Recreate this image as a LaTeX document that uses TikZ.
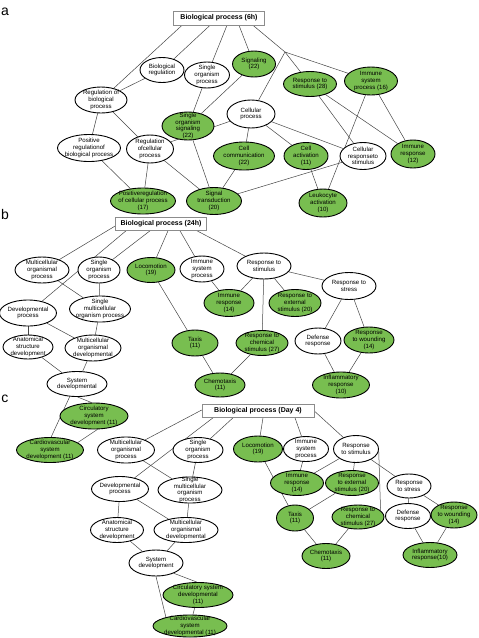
\documentclass[tikz,border=0pt]{standalone}
\usepackage{fontspec}
\setmainfont{Liberation Sans}
\usetikzlibrary{shapes.geometric,backgrounds}
\definecolor{gogreen}{RGB}{120,190,80}
\definecolor{edgegray}{RGB}{70,70,70}
\newcommand{\goel}[6]{\node[#1, minimum width=#4pt, minimum height=#5pt, label={[golabel]center:{#6}}] (#2) at (#3) {};}
\tikzset{
  gow/.style={ellipse, draw=black, line width=0.9pt, fill=white, inner sep=0pt},
  gog/.style={gow, fill=gogreen},
  golabel/.style={font=\fontsize{6.1}{6.7}\selectfont, align=center, inner sep=0pt, text=black},
  gotitle/.style={rectangle, draw=black!45, line width=0.6pt, fill=white, inner sep=0pt, font=\fontsize{7}{8}\selectfont\bfseries},
  goedge/.style={draw=edgegray, line width=0.5pt},
  panellbl/.style={font=\fontsize{14}{16}\selectfont, inner sep=0pt}
}
\begin{document}
\begin{tikzpicture}[x=1pt,y=-1pt]
\useasboundingbox (0,0) rectangle (479,638);
% panel labels
\node[panellbl] (la) at (5,12) {a};
\node[panellbl] (lb) at (5,214) {b};
\node[panellbl] (lc) at (5,399) {c};

% ---------------- panel a ----------------
\node[gotitle, minimum width=91pt, minimum height=14pt] (ta) at (219,18) {Biological process (6h)};
\coordinate (ja) at (285,52);
\goel{gow}{a1}{162,70}{44}{25}{Biological\\regulation}
\goel{gow}{a2}{207,75}{45}{26}{Single\\organism\\process}
\goel{gog}{a3}{254,64}{43}{26}{Signaling\\(22)}
\goel{gog}{a4}{310,84}{53}{25}{Response to\\stimulus (28)}
\goel{gog}{a5}{371,81}{53}{28}{Immune\\system\\process (16)}
\goel{gow}{a6}{101,100}{52}{26}{Regulation of\\biological\\process}
\goel{gog}{a7}{188,126}{52}{28}{Single\\organism\\signaling\\(22)}
\goel{gow}{a8}{251,114}{48}{28}{Cellular\\process}
\goel{gow}{a9}{89,148}{63}{27}{Positive\\regulationof\\biological process}
\goel{gow}{a10}{150,149}{47}{28}{Regulation\\ofcellular\\process}
\goel{gog}{a11}{244,156}{61}{28}{Cell\\communication\\(22)}
\goel{gog}{a12}{306,156}{44}{27}{Cell\\activation\\(11)}
\goel{gow}{a13}{363,156}{46}{27}{Cellular\\responseto\\stimulus}
\goel{gog}{a14}{413,154}{44}{28}{Immune\\response\\(12)}
\goel{gog}{a15}{143,201}{65}{26}{Positiveregulation\\of cellular process\\(17)}
\goel{gog}{a16}{214,201}{55}{27}{Signal\\transduction\\(20)}
\goel{gog}{a17}{323,203}{48}{28}{Leukocyte\\activation\\(10)}

% ---------------- panel b ----------------
\node[gotitle, minimum width=91pt, minimum height=13pt] (tb) at (161,224) {Biological process (24h)};
\goel{gow}{b1}{42,270}{54}{26}{Multicellular\\organismal\\process}
\goel{gow}{b2}{99,270}{42}{26}{Single\\organism\\process}
\goel{gog}{b3}{151,270}{48}{25}{Locomotion\\(19)}
\goel{gow}{b4}{202,269}{44}{26}{Immune\\system\\process}
\goel{gow}{b5}{264,266}{54}{26}{Response to\\stimulus}
\goel{gow}{b6}{349,286}{54}{27}{Response to\\stress}
\goel{gow}{b7}{28,313}{57}{26}{Developmental\\process}
\goel{gow}{b8}{100,309}{61}{26}{Single\\multicellular\\organism process}
\goel{gog}{b9}{229,303}{50}{27}{Immune\\response\\(14)}
\goel{gog}{b10}{295,303}{52}{27}{Response to\\external\\stimulus (20)}
\goel{gow}{b11}{28,347}{50}{24}{Anatomical\\structure\\development}
\goel{gow}{b12}{93,348}{56}{26}{Multicellular\\organismal\\developmental}
\goel{gog}{b13}{195,343}{46}{26}{Taxis\\(11)}
\goel{gog}{b14}{262,343}{52}{25}{Response to\\chemical\\stimulus (27)}
\goel{gow}{b15}{318,341}{46}{26}{Defense\\response}
\goel{gog}{b16}{369,340}{50}{26}{Response\\to wounding\\(14)}
\goel{gow}{b17}{77,384}{60}{25}{System\\developmental}
\goel{gog}{b18}{220,385}{50}{24}{Chemotaxis\\(11)}
\goel{gog}{b19}{341,385}{57}{26}{Inflammatory\\response\\(10)}
\goel{gog}{b20}{94,416}{68}{26}{Circulatory\\system\\development (11)}
\goel{gog}{b21}{50,450}{67}{25}{Cardiovascular\\system\\development (11)}

% ---------------- panel c ----------------
\node[gotitle, minimum width=112pt, minimum height=13pt] (tc) at (258,411) {Biological process (Day 4)};
\goel{gow}{c1}{126,450}{57}{26}{Multicellular\\organismal\\process}
\goel{gow}{c2}{198,450}{50}{25}{Single\\organism\\process}
\goel{gog}{c3}{258,449}{49}{26}{Locomotion\\(19)}
\goel{gow}{c4}{306,449}{45}{25}{Immune\\system\\process}
\goel{gow}{c5}{356,449}{45}{27}{Response\\to stimulus}
\goel{gow}{c6}{120,489}{57}{25}{Developmental\\process}
\goel{gow}{c7}{190,490}{64}{26}{Single\\multicellular\\organism\\process}
\goel{gog}{c8}{297,483}{53}{25}{Immune\\response\\(14)}
\goel{gog}{c9}{352,483}{53}{25}{Response\\to external\\stimulus (20)}
\goel{gow}{c10}{409,486}{44}{24}{Response\\to stress}
\goel{gow}{c11}{117,530}{53}{25}{Anatomical\\structure\\development}
\goel{gow}{c12}{186,530}{64}{25}{Multicellular\\organismal\\developmental}
\goel{gog}{c13}{295,518}{37}{26}{Taxis\\(11)}
\goel{gog}{c14}{358,517}{52}{24}{Response to\\chemical\\stimulus (27)}
\goel{gow}{c15}{408,516}{45}{25}{Defense\\response}
\goel{gog}{c16}{454,515}{46}{26}{Response\\to wounding\\(14)}
\goel{gow}{c17}{156,563}{54}{26}{System\\development}
\goel{gog}{c18}{326,556}{48}{25}{Chemotaxis\\(11)}
\goel{gog}{c19}{430,555}{54}{25}{Inflammatory\\response(10)}
\goel{gog}{c20}{198,595}{70}{25}{Circulatory system\\developmental\\(11)}
\goel{gog}{c21}{190,626}{74}{22}{Cardiovascular\\system\\developmental (11)}

\begin{pgfonlayer}{background}
\fill[white] (0,0) rectangle (479,638);
% panel a edges
\draw[goedge] ([xshift=-37pt]ta.south) -- (a6);
\draw[goedge] ([xshift=-9pt]ta.south) -- (a1);
\draw[goedge] ([xshift=8pt]ta.south) -- (a2);
\draw[goedge] ([xshift=20pt]ta.south) -- (a3);
\draw[goedge] ([xshift=34pt]ta.south) -- (ja);
\draw[goedge] (ja) -- (a4);
\draw[goedge] (ja) -- (a5);
\draw[goedge] (ja) -- (a8);
\draw[goedge] (a1) -- (a6);
\draw[goedge] (a2) -- (a7);
\draw[goedge] (a3) -- (a7);
\draw[goedge] (a6) -- (a9);
\draw[goedge] (a6) -- (a10);
\draw[goedge] (a8) -- (a10);
\draw[goedge] (a9) -- (a15);
\draw[goedge] (a10) -- (a15);
\draw[goedge] (a10) -- (a16);
\draw[goedge] (a7) -- (a16);
\draw[goedge] (a11) -- (a16);
\draw[goedge] (a13) -- (a16);
\draw[goedge] (a8) -- (a11);
\draw[goedge] (a8) -- (a12);
\draw[goedge] (a8) -- (a13);
\draw[goedge] (a4) -- (a13);
\draw[goedge] (a4) -- (a14);
\draw[goedge] (a5) -- (a14);
\draw[goedge] (a5) -- (a17);
\draw[goedge] (a12) -- (a17);
% panel b edges
\draw[goedge] ([yshift=-2pt]tb.west) -- (b1);
\draw[goedge] ([xshift=-35pt]tb.south) -- (b7);
\draw[goedge] ([xshift=-11pt]tb.south) -- (b2);
\draw[goedge] ([xshift=7pt]tb.south) -- (b3);
\draw[goedge] ([xshift=19pt]tb.south) -- (b4);
\draw[goedge] ([xshift=36pt]tb.south) -- (b5);
\draw[goedge] (b1) -- (b8);
\draw[goedge] (b2) -- (b8);
\draw[goedge] (b7) -- (b11);
\draw[goedge] (b7) -- (b12);
\draw[goedge] (b8) -- (b12);
\draw[goedge] (b11) -- (b17);
\draw[goedge] (b12) -- (b17);
\draw[goedge] (b17.-88) -- (b20.100);
\draw[goedge] (b17.-120) -- (b21.85);
\draw[goedge] (b20.-75) -- (b21.15);
\draw[goedge] (b3) -- (b13);
\draw[goedge] (b13) -- (b18);
\draw[goedge] (b14) -- (b18);
\draw[goedge] (b4) -- (b9);
\draw[goedge] (b5) -- (b9);
\draw[goedge] (b5) -- (b10);
\draw[goedge] (b5) -- (b14);
\draw[goedge] (b5) -- (b6);
\draw[goedge] (b6) -- (b15);
\draw[goedge] (b6) -- (b16);
\draw[goedge] (b15) -- (b19);
\draw[goedge] (b16) -- (b19);
% panel c edges
\draw[goedge] ([yshift=1pt]tc.west) -- (c1);
\draw[goedge] ([xshift=-45pt]tc.south) -- (c6);
\draw[goedge] ([xshift=-25pt]tc.south) -- (c2);
\draw[goedge] ([xshift=5pt]tc.south) -- (c3);
\draw[goedge] ([xshift=37pt]tc.south) -- (c4);
\draw[goedge] (tc.east) -- (c5);
\draw[goedge] (c1) -- (c7);
\draw[goedge] (c2) -- (c7);
\draw[goedge] (c6) -- (c11);
\draw[goedge] (c6) -- (c12);
\draw[goedge] (c7) -- (c12);
\draw[goedge] (c11) -- (c17);
\draw[goedge] (c12) -- (c17);
\draw[goedge] (c17.-30) -- (c20.95);
\draw[goedge] (c17.-90) -- (c21.160);
\draw[goedge] (c20) -- (c21);
\draw[goedge] (c3) -- (c13);
\draw[goedge] (c4) -- (c8);
\draw[goedge] (c5) -- (c8);
\draw[goedge] (c5) -- (c9);
\draw[goedge] (c5.-5) -- (c14.16);
\draw[goedge] (c5) -- (c10);
\draw[goedge] (c9) -- (c13);
\draw[goedge] (c13) -- (c18);
\draw[goedge] (c14) -- (c18);
\draw[goedge] (c10) -- (c15);
\draw[goedge] (c10) -- (c16);
\draw[goedge] (c15) -- (c19);
\draw[goedge] (c16) -- (c19);
\end{pgfonlayer}
\end{tikzpicture}
\end{document}
